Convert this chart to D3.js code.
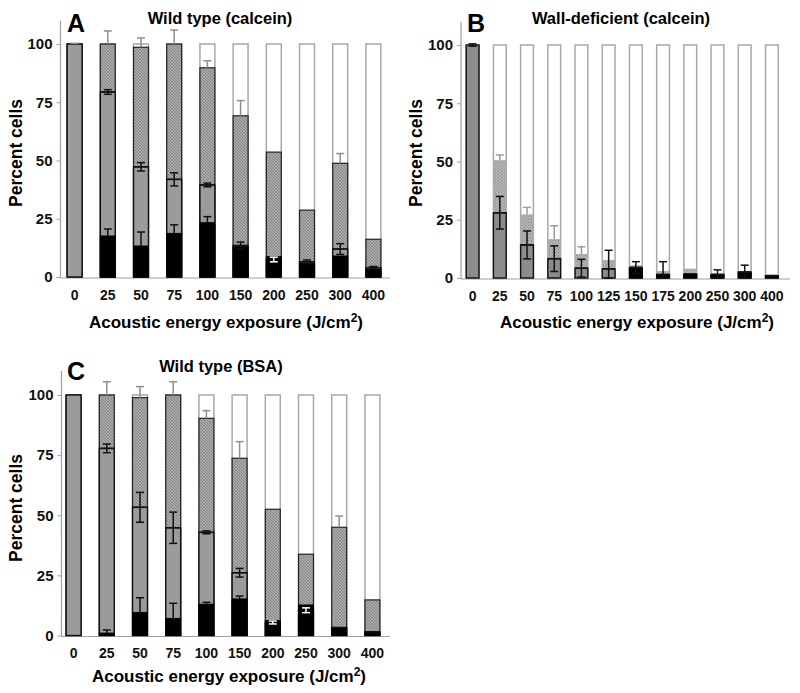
<!DOCTYPE html>
<html><head><meta charset="utf-8">
<script src="https://cdn.jsdelivr.net/npm/d3@7"></script>
<style>body{margin:0;background:#fff}svg{display:block;font-family:"Liberation Sans",Arial,sans-serif}</style>
</head><body>
<svg id="c" width="800" height="693"></svg>
<script>
// ---- Data ----
const catsAC = ["0","25","50","75","100","150","200","250","300","400"];
const catsB = ["0","25","50","75","100","125","150","175","200","250","300","400"];
const yTicks = [0,25,50,75,100];

// Panel A: Wild type (calcein) - cumulative levels
const A_black = [0, 17.6, 13.3, 18.7, 23.3, 13, 8.7, 5.9, 9, 3.3];
const A_blackErr = [0, 3, 6, 3.7, 2.6, 0, 0, 0, 0, 0];
const A_gray = [100, 79.4, 47.3, 41.9, 39.5, 13.5, 7.5, 6.5, 12, 4];
const A_grayErr = [0, 1, 1.8, 2.8, 0.8, 1.5, 1, 0.8, 2.3, 0.5];
const A_hatch = [100, 100, 98.6, 100, 89.8, 69.2, 53.6, 28.7, 48.8, 16.2];
const A_hatchErr = [0.3, 5.6, 4, 6, 3, 6.5, 0, 0, 4.2, 0];

// Panel B: Wall-deficient (calcein)
const B_black = [0, 0, 0, 0, 0, 0, 4, 1.5, 1.8, 1.5, 2.5, 0.8];
const B_blackErr = [0,0,0,0,0,0,0,0,0,0,0,0];
const B_gray = [100, 28, 14.2, 8.3, 4.2, 3.9, 4.5, 1.5, 1.5, 1.5, 2.5, 1];
const B_grayErr = [0.5, 7, 6, 5.5, 3.8, 8, 2.5, 5.5, 0, 2, 3, 0];
const B_hatch = [100, 50.6, 27.3, 16.7, 10.3, 7.7, 5.5, 3, 4, 2, 3, 1.5];
const B_hatchErr = [0, 2.2, 3, 5.7, 3.1, 0, 0, 0, 0, 0, 0, 0];

// Panel C: Wild type (BSA)
const C_black = [0, 1, 9.6, 7.1, 13, 15.2, 6.2, 12.7, 3.3, 1.5];
const C_blackErr = [0, 1.3, 6.1, 6.3, 0.8, 1.2, 0, 0, 0, 0];
const C_gray = [100, 77.8, 53.3, 44.8, 42.9, 26.1, 5.4, 10.5, 3.3, 1.5];
const C_grayErr = [0, 1.8, 6.2, 6.5, 0.6, 1.8, 0.6, 1, 0, 0];
const C_hatch = [100, 100, 98.9, 100, 90.3, 73.7, 52.5, 33.8, 45, 14.8];
const C_hatchErr = [0, 5.5, 4.6, 5.5, 3.2, 6.9, 0, 0, 4.7, 0];

const svg = d3.select("#c");
const defs = svg.append("defs");
const ph = defs.append("pattern").attr("id","hatch").attr("patternUnits","userSpaceOnUse")
  .attr("width",3).attr("height",3);
ph.append("rect").attr("width",3).attr("height",3).attr("fill","#a9a9a9");
ph.append("path").attr("d","M0,0 L3,3 M-1,2 L1,4 M2,-1 L4,1").attr("stroke","#7a7a7a").attr("stroke-width",0.8);
const ps = defs.append("pattern").attr("id","stipple").attr("patternUnits","userSpaceOnUse")
  .attr("width",3).attr("height",3);
ps.append("rect").attr("width",3).attr("height",3).attr("fill","#b4b4b4");
ps.append("rect").attr("x",0).attr("y",0).attr("width",1).attr("height",1).attr("fill","#8a8a8a");
ps.append("rect").attr("x",1.5).attr("y",1.5).attr("width",1).attr("height",1).attr("fill","#8a8a8a");

function panel(o){
  const g = svg.append("g");
  const y = d3.scaleLinear().domain([0,110]).range([o.y0, o.y0 - 110*o.k]);
  const x = d3.scaleBand().domain(o.cats).range(o.xr).paddingInner(o.pad).paddingOuter(o.pad/2);
  const bw = x.bandwidth();
  // axes
  g.append("line").attr("x1",o.ax).attr("x2",o.ax).attr("y1",y(0)+1).attr("y2",y(110)).attr("stroke","#a0a0a0").attr("stroke-width",1.2);
  g.append("line").attr("x1",o.ax).attr("x2",o.xEnd).attr("y1",y(0)+1).attr("y2",y(0)+1).attr("stroke","#a0a0a0").attr("stroke-width",1.2);
  const ya = d3.axisLeft(y).tickValues(yTicks).tickSize(4).tickPadding(4);
  const yg = g.append("g").attr("transform",`translate(${o.ax},0)`).call(ya);
  yg.select(".domain").remove();
  yg.selectAll(".tick line").attr("stroke","#a0a0a0");
  yg.selectAll(".tick text").attr("font-size",15).attr("font-weight","bold").attr("fill","#111")
    .attr("font-family",'"Liberation Sans",Arial,sans-serif');
  const xa = d3.axisBottom(x).tickSize(0).tickPadding(12);
  const xg = g.append("g").attr("transform",`translate(0,${y(0)+1})`).call(xa);
  xg.select(".domain").remove();
  xg.selectAll(".tick text").attr("font-size",14).attr("font-weight","bold").attr("fill","#111")
    .attr("font-family",'"Liberation Sans",Arial,sans-serif');

  o.cats.forEach((c,i)=>{
    const x0 = x(c);
    g.append("rect").attr("x",x0).attr("width",bw).attr("y",y(100)).attr("height",y(0)-y(100))
      .attr("fill","#fff").attr("stroke","#a8a8a8").attr("stroke-width",1.5);
    if (o.hatch[i]>0) g.append("rect").attr("x",x0).attr("width",bw).attr("y",y(o.hatch[i])).attr("height",y(0)-y(o.hatch[i]))
      .attr("fill",o.hatchFill).attr("stroke",o.hatchStroke).attr("stroke-width",1.2);
    if (o.gray[i]>0) g.append("rect").attr("x",x0).attr("width",bw).attr("y",y(o.gray[i])).attr("height",y(0)-y(o.gray[i]))
      .attr("fill",o.grayFill).attr("stroke","#111").attr("stroke-width",1.4);
    if (o.black[i]>0) g.append("rect").attr("x",x0).attr("width",bw).attr("y",y(o.black[i])).attr("height",y(0)-y(o.black[i]))
      .attr("fill","#000").attr("stroke","#000").attr("stroke-width",1);
    const cx = x0 + bw/2;
    function err(v,e,both,col){
      if(!e) return;
      const top = y(Math.min(v+e,110)), bot = both ? y(Math.max(v-e,0)) : y(v);
      g.append("line").attr("x1",cx).attr("x2",cx).attr("y1",top).attr("y2",bot).attr("stroke",col).attr("stroke-width",1.5);
      g.append("line").attr("x1",cx-4).attr("x2",cx+4).attr("y1",top).attr("y2",top).attr("stroke",col).attr("stroke-width",1.5);
      if(both) g.append("line").attr("x1",cx-4).attr("x2",cx+4).attr("y1",bot).attr("y2",bot).attr("stroke",col).attr("stroke-width",1.5);
    }
    err(o.hatch[i], o.hatchErr[i], false, o.topErrCol);
    const gcol = o.gray[i] < o.black[i] ? "#fff" : "#111";
    err(o.gray[i], o.grayErr[i], true, gcol);
    if (o.gray[i] > 0 && o.gray[i] < 100 && o.gray[i] >= o.black[i])
      g.append("line").attr("x1",x0).attr("x2",x0+bw).attr("y1",y(o.gray[i])).attr("y2",y(o.gray[i])).attr("stroke","#111").attr("stroke-width",1.5);
    err(o.black[i], o.blackErr[i], false, "#111");
  });

  g.append("text").attr("x",o.letter[0]).attr("y",o.letter[1]).attr("font-size",25).attr("font-weight","bold").text(o.letterText);
  g.append("text").attr("x",o.title[0]).attr("y",o.title[1]).attr("text-anchor","middle").attr("font-size",16.5).attr("font-weight","bold").text(o.titleText);
  g.append("text").attr("transform",`translate(${o.ylab[0]},${o.ylab[1]}) rotate(-90)`).attr("text-anchor","middle")
    .attr("dominant-baseline","central").attr("font-size",17.5).attr("font-weight","bold").text("Percent cells");
  const xl = g.append("text").attr("x",o.xlab[0]).attr("y",o.xlab[1]).attr("text-anchor","middle").attr("font-size",17).attr("font-weight","bold");
  xl.append("tspan").text("Acoustic energy exposure (J/cm");
  xl.append("tspan").attr("font-size",12).attr("dy",-6).text("2");
  xl.append("tspan").attr("dy",6).text(")");
}

panel({cats:catsAC, y0:277, k:2.33, xr:[58,390], pad:0.55, ax:60.5, xEnd:390,
  black:A_black, blackErr:A_blackErr, gray:A_gray, grayErr:A_grayErr, hatch:A_hatch, hatchErr:A_hatchErr,
  hatchFill:"url(#hatch)", hatchStroke:"#222", grayFill:"#9b9b9b", topErrCol:"#8f8f8f",
  letter:[67,32], letterText:"A", title:[220,24], titleText:"Wild type (calcein)", ylab:[16,153], xlab:[226,328]});

panel({cats:catsB, y0:278, k:2.33, xr:[459,785.5], pad:0.53, ax:461, xEnd:790,
  black:B_black, blackErr:B_blackErr, gray:B_gray, grayErr:B_grayErr, hatch:B_hatch, hatchErr:B_hatchErr,
  hatchFill:"url(#stipple)", hatchStroke:"none", grayFill:"#8c8c8c", topErrCol:"#9a9a9a",
  letter:[467,32], letterText:"B", title:[621,24], titleText:"Wall-deficient (calcein)", ylab:[416,153], xlab:[637,328]});

panel({cats:catsAC, y0:635.5, k:2.405, xr:[57,389], pad:0.55, ax:61.5, xEnd:390,
  black:C_black, blackErr:C_blackErr, gray:C_gray, grayErr:C_grayErr, hatch:C_hatch, hatchErr:C_hatchErr,
  hatchFill:"url(#hatch)", hatchStroke:"#222", grayFill:"#9b9b9b", topErrCol:"#8f8f8f",
  letter:[67,380], letterText:"C", title:[221,372], titleText:"Wild type (BSA)", ylab:[16,508], xlab:[229,682]});
</script>
</body></html>
